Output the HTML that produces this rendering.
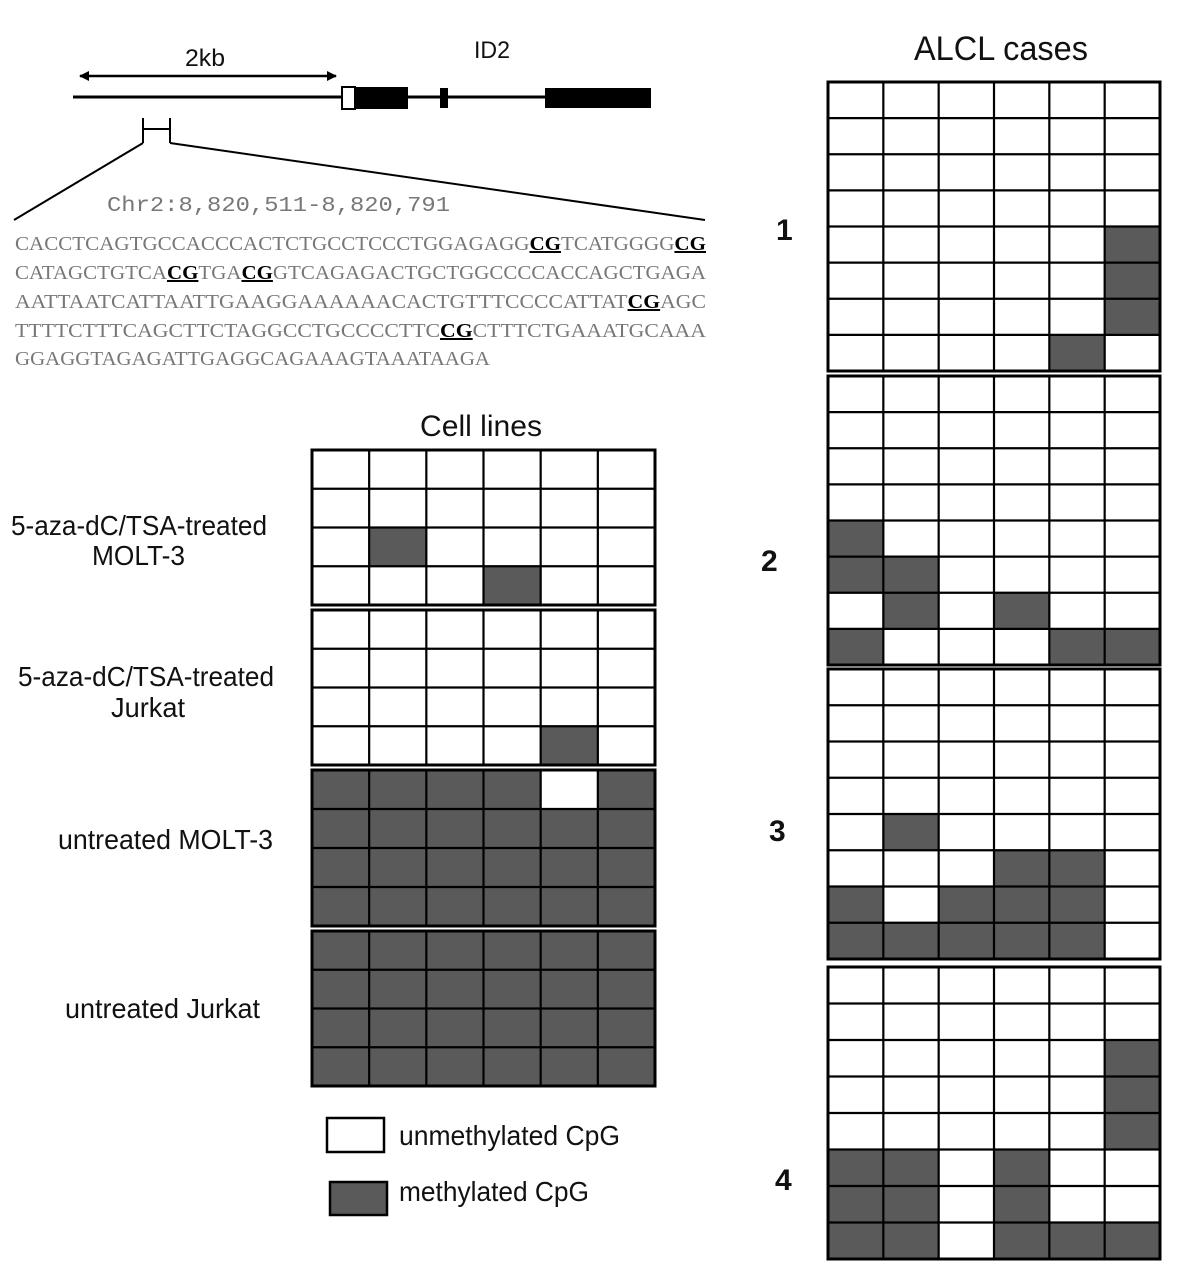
<!DOCTYPE html>
<html><head><meta charset="utf-8"><style>
html,body{margin:0;padding:0;background:#fff;}
svg{display:block;}
.s{font-family:"Liberation Sans Narrow","Liberation Sans",sans-serif;fill:#111;}
.m{font-family:"Liberation Mono",monospace;fill:#777;}
.cg{fill:#000;font-weight:bold;text-decoration:underline;}
</style></head><body>
<svg id="sv" width="1179" height="1280" viewBox="0 0 1179 1280" xmlns="http://www.w3.org/2000/svg">
<defs><marker id="ar" markerWidth="10" markerHeight="10" refX="9" refY="5" orient="auto-start-reverse" markerUnits="userSpaceOnUse"><path d="M0,0 L10,5 L0,10 z" fill="#000"/></marker></defs>
<text class="s" x="185" y="66" font-size="24" textLength="40" lengthAdjust="spacingAndGlyphs">2kb</text>
<text class="s" x="474" y="58" font-size="24" textLength="36" lengthAdjust="spacingAndGlyphs">ID2</text>
<line x1="80" y1="76" x2="336" y2="76" stroke="#000" stroke-width="2.5" marker-start="url(#ar)" marker-end="url(#ar)"/>
<line x1="73" y1="97" x2="545" y2="97" stroke="#000" stroke-width="3"/>
<rect x="342" y="87" width="13" height="22" fill="#fff" stroke="#000" stroke-width="2"/>
<rect x="355" y="87" width="53" height="22" fill="#000"/>
<rect x="440" y="88" width="8" height="20" fill="#000"/>
<rect x="545" y="88" width="106" height="20" fill="#000"/>
<path d="M143,118 V143 M170,118 V143 M143,129 H170 M143,143 L14,220 M170,143 L705,220" stroke="#000" stroke-width="2" fill="none"/>
<text class="m" x="107" y="211" font-size="21" textLength="343" lengthAdjust="spacingAndGlyphs">Chr2:8,820,511-8,820,791</text>
<g font-size="20" class="m" style="font-family:'Liberation Serif',serif">
<text x="15" y="250" textLength="691" lengthAdjust="spacingAndGlyphs">CACCTCAGTGCCACCCACTCTGCCTCCCTGGAGAGG<tspan class="cg">CG</tspan>TCATGGGG<tspan class="cg">CG</tspan></text>
<text x="15" y="279" textLength="691" lengthAdjust="spacingAndGlyphs">CATAGCTGTCA<tspan class="cg">CG</tspan>TGA<tspan class="cg">CG</tspan>GTCAGAGACTGCTGGCCCCACCAGCTGAGA</text>
<text x="15" y="308" textLength="691" lengthAdjust="spacingAndGlyphs">AATTAATCATTAATTGAAGGAAAAAACACTGTTTCCCCATTAT<tspan class="cg">CG</tspan>AGC</text>
<text x="15" y="337" textLength="691" lengthAdjust="spacingAndGlyphs">TTTTCTTTCAGCTTCTAGGCCTGCCCCTTC<tspan class="cg">CG</tspan>CTTTCTGAAATGCAAA</text>
<text x="15" y="365" textLength="475" lengthAdjust="spacingAndGlyphs">GGAGGTAGAGATTGAGGCAGAAAGTAAATAAGA</text>
</g>
<text class="s" x="914" y="60" font-size="34" textLength="174" lengthAdjust="spacingAndGlyphs">ALCL cases</text>
<text class="s" x="420" y="436" font-size="30" textLength="122" lengthAdjust="spacingAndGlyphs">Cell lines</text>
<g class="s" font-size="30" font-weight="bold">
<text x="776" y="240">1</text><text x="761" y="571">2</text><text x="769" y="841">3</text><text x="775" y="1190">4</text>
</g>
<g class="s" font-size="28">
<text x="11" y="535" textLength="256" lengthAdjust="spacingAndGlyphs">5-aza-dC/TSA-treated</text>
<text x="92" y="565" textLength="93" lengthAdjust="spacingAndGlyphs">MOLT-3</text>
<text x="18" y="686" textLength="256" lengthAdjust="spacingAndGlyphs">5-aza-dC/TSA-treated</text>
<text x="111" y="717" textLength="74" lengthAdjust="spacingAndGlyphs">Jurkat</text>
<text x="58" y="849" textLength="215" lengthAdjust="spacingAndGlyphs">untreated MOLT-3</text>
<text x="65" y="1018" textLength="195" lengthAdjust="spacingAndGlyphs">untreated Jurkat</text>
<text x="399" y="1145" textLength="221" lengthAdjust="spacingAndGlyphs">unmethylated CpG</text>
<text x="399" y="1201" textLength="190" lengthAdjust="spacingAndGlyphs">methylated CpG</text>
</g>
<rect x="327" y="1118" width="57" height="34" fill="#fff" stroke="#000" stroke-width="2.5"/>
<rect x="330" y="1182" width="57" height="33" fill="#5a5a5a" stroke="#000" stroke-width="2.5"/>
<g id="grids"></g>
</svg>
<script>
(function(){
var g=document.getElementById('grids'),NS='http://www.w3.org/2000/svg',out='';
function block(x0,x1,y0,y1,dark){
 var w=(x1-x0)/6,h=(y1-y0)/4*1; var rows=dark.length; h=(y1-y0)/rows;
 out+='<rect x="'+x0+'" y="'+y0+'" width="'+(x1-x0)+'" height="'+(y1-y0)+'" fill="#fff"/>';
 for(var r=0;r<rows;r++)for(var c=0;c<6;c++)if(dark[r][c]=='1')
  out+='<rect x="'+(x0+c*w)+'" y="'+(y0+r*h)+'" width="'+w+'" height="'+h+'" fill="#5a5a5a"/>';
 var p='';
 for(var c=1;c<6;c++)p+='M'+(x0+c*w)+','+y0+'V'+y1;
 for(var r=1;r<rows;r++)p+='M'+x0+','+(y0+r*h)+'H'+x1;
 out+='<path d="'+p+'" stroke="#000" stroke-width="2.2" fill="none"/>';
 out+='<rect x="'+x0+'" y="'+y0+'" width="'+(x1-x0)+'" height="'+(y1-y0)+'" fill="none" stroke="#000" stroke-width="3"/>';
}
var a=312,b=655;
block(a,b,450,605,['000000','000000','010000','000100']);
block(a,b,610,765,['000000','000000','000000','000010']);
block(a,b,770,926,['111101','111111','111111','111111']);
block(a,b,931,1086,['111111','111111','111111','111111']);
a=828;b=1160;
block(a,b,82,371,['000000','000000','000000','000000','000001','000001','000001','000010']);
block(a,b,376,665,['000000','000000','000000','000000','100000','110000','010100','100011']);
block(a,b,669,959,['000000','000000','000000','000000','010000','000110','101110','111110']);
block(a,b,967,1259,['000000','000000','000001','000001','000001','110100','110100','110111']);
g.innerHTML=out;
})();
</script>
</body></html>
